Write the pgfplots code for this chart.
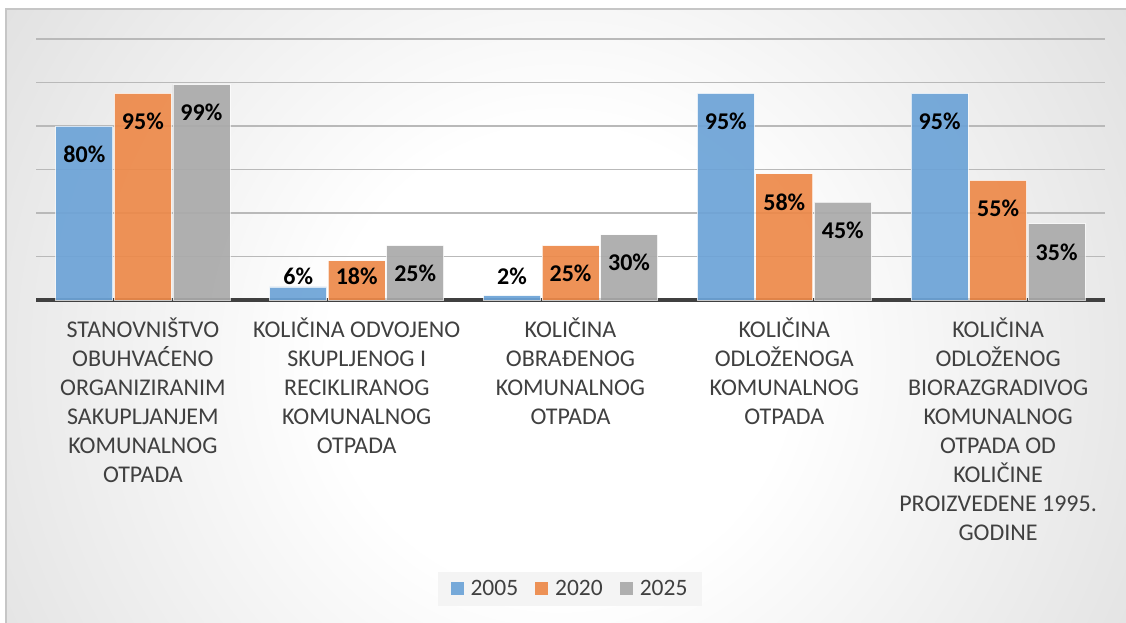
\documentclass[border=0pt]{standalone}
\usepackage{fontspec}
\setmainfont{Carlito}
\usepackage{pgfplots}
\pgfplotsset{compat=1.18}
\definecolor{cblue}{RGB}{108,163,215}
\definecolor{corange}{RGB}{237,137,73}
\definecolor{cgray}{RGB}{170,170,170}
\definecolor{txt}{RGB}{64,64,64}
\definecolor{bgedge}{RGB}{182,182,182}
\definecolor{gridc}{RGB}{185,185,185}
\pgfdeclareradialshading{bgshade}{\pgfpoint{0bp}{0bp}}{color(0bp)=(white); color(8bp)=(white); color(45bp)=(bgedge); color(72bp)=(bgedge)}
\begin{document}
\begin{tikzpicture}
\useasboundingbox (-36bp,-323bp) rectangle (1090bp,300bp);
\begin{scope}
\clip (-30bp,-323bp) rectangle (1090bp,291bp);
\shade[shading=bgshade] (524bp,-60bp) circle (720bp);
\end{scope}
\draw[gray!45, line width=1.2bp] (-30bp,-330bp) -- (-30bp,291bp) -- (1095bp,291bp);
\begin{axis}[
  at={(0,0)}, anchor=south west,
  scale only axis, width=1069bp, height=261bp,
  xmin=-0.5, xmax=4.5, ymin=0, ymax=120,
  ybar=1.5bp, bar width=57bp,
  xtick={0,1,2,3,4},
  xticklabels={
    {STANOVNIŠTVO\\OBUHVAĆENO\\ORGANIZIRANIM\\SAKUPLJANJEM\\KOMUNALNOG\\OTPADA},
    {KOLIČINA ODVOJENO\\SKUPLJENOG I\\RECIKLIRANOG\\KOMUNALNOG\\OTPADA},
    {KOLIČINA\\OBRAĐENOG\\KOMUNALNOG\\OTPADA},
    {KOLIČINA\\ODLOŽENOGA\\KOMUNALNOG\\OTPADA},
    {KOLIČINA\\ODLOŽENOG\\BIORAZGRADIVOG\\KOMUNALNOG\\OTPADA OD\\KOLIČINE\\PROIZVEDENE 1995.\\GODINE}},
  ytick={20,40,...,120}, yticklabels={},
  ymajorgrids, grid style={gridc, line width=1.3bp},
  axis x line*=bottom, axis y line*=left,
  y axis line style={draw=none},
  x axis line style={draw=txt, line width=3.5bp, -},
  major tick length=0pt,
  /pgf/number format/assume math mode=true,
  xticklabel style={font=\fontsize{24bp}{29bp}\selectfont, text=txt, align=center, anchor=north, inner sep=0pt, yshift=-18bp},
  visualization depends on={rawy \as \myy},
  nodes near coords={\pgfmathprintnumber{\pgfplotspointmeta}\%},
  every node near coord/.append style={font=\fontsize{24bp}{29bp}\selectfont\bfseries, text=black, text opacity=1, anchor=center, inner sep=0pt, yshift={(max(\myy-12.9,11)-\myy)*2.175bp}},
  legend style={at={(0.4995,-1.107)}, anchor=center, legend columns=3,
    fill={rgb,255:red,244;green,244;blue,244}, draw=none,
    font=\fontsize{23.5bp}{28bp}\selectfont, text=txt,
    inner xsep=13bp, inner ysep=7bp,
    /tikz/every even column/.append style={column sep=15bp},
    /tikz/every odd column/.append style={column sep=5bp}},
  legend image code/.code={\fill[#1, draw=none] (0bp,-6.5bp) rectangle (13bp,6.5bp);},
]
\addplot[fill=cblue, fill opacity=0.92, draw=white, draw opacity=0.7, line width=0.8bp] coordinates {(0,80) (1,6) (2,2) (3,95) (4,95)};
\addplot[fill=corange, fill opacity=0.92, draw=white, draw opacity=0.7, line width=0.8bp] coordinates {(0,95) (1,18) (2,25) (3,58) (4,55)};
\addplot[fill=cgray, fill opacity=0.92, draw=white, draw opacity=0.7, line width=0.8bp] coordinates {(0,99) (1,25) (2,30) (3,45) (4,35)};
\legend{2005,2020,2025}
\end{axis}
\end{tikzpicture}
\end{document}
